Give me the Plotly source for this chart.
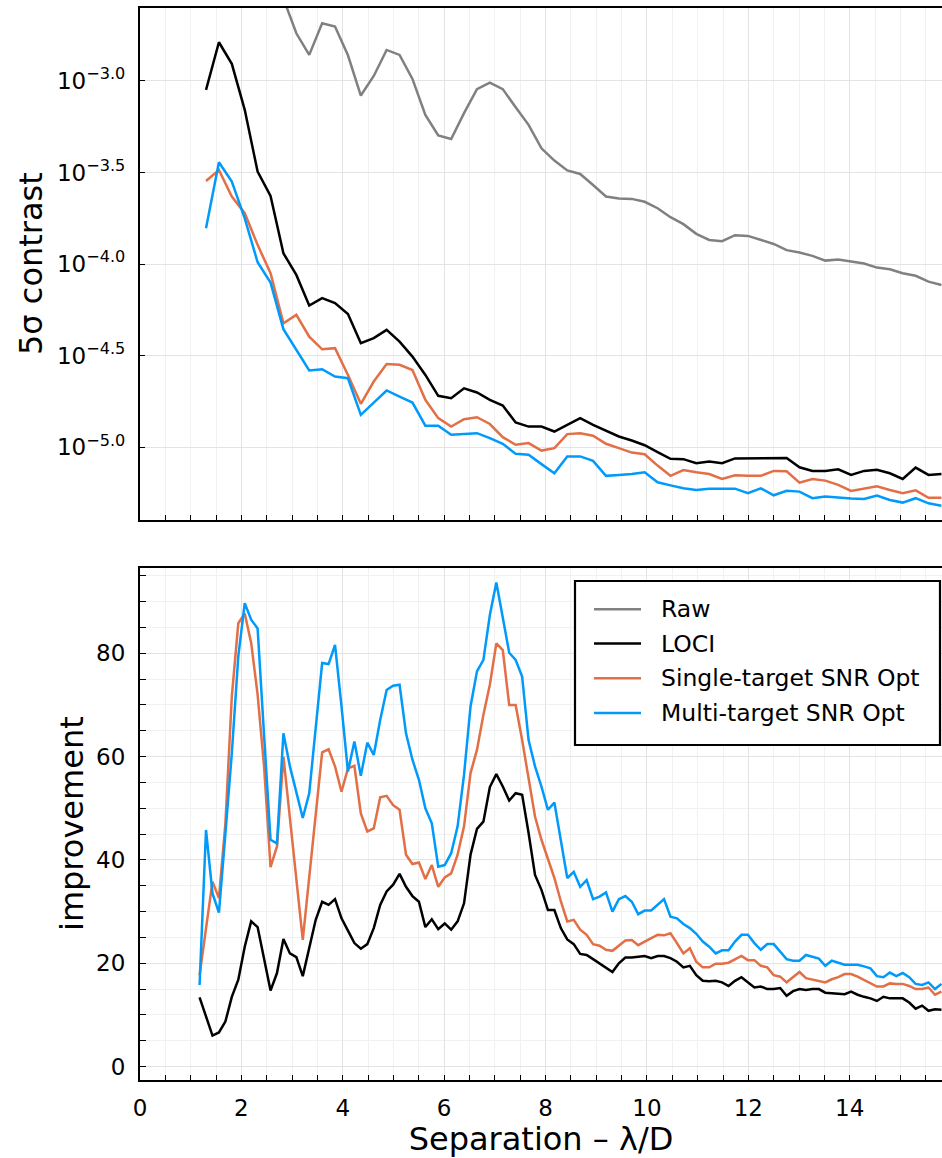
import plotly.graph_objects as go

# ---------------- data ----------------
# fine separation grid (lambda/D) used by the improvement panel
separation_fine = [
    1.175, 1.302, 1.430, 1.557, 1.684, 1.811, 1.939, 2.066, 2.193, 2.320,
    2.448, 2.575, 2.702, 2.829, 2.957, 3.084, 3.211, 3.338, 3.466, 3.593,
    3.720, 3.847, 3.975, 4.102, 4.229, 4.356, 4.484, 4.611, 4.738, 4.865,
    4.993, 5.120, 5.247, 5.374, 5.502, 5.629, 5.756, 5.883, 6.011, 6.138,
    6.265, 6.392, 6.520, 6.647, 6.774, 6.901, 7.029, 7.156, 7.283, 7.410,
    7.538, 7.665, 7.792, 7.919, 8.047, 8.174, 8.301, 8.428, 8.556, 8.683,
    8.810, 8.937, 9.065, 9.192, 9.319, 9.446, 9.574, 9.701, 9.828, 9.955,
    10.083, 10.210, 10.337, 10.464, 10.592, 10.719, 10.846, 10.973, 11.101, 11.228,
    11.355, 11.482, 11.610, 11.737, 11.864, 11.991, 12.119, 12.246, 12.373, 12.500,
    12.628, 12.755, 12.882, 13.009, 13.137, 13.264, 13.391, 13.518, 13.646, 13.773,
    13.900, 14.027, 14.155, 14.282, 14.409, 14.536, 14.664, 14.791, 14.918, 15.045,
    15.173, 15.300, 15.427, 15.554, 15.682, 15.809,
]
# coarse grid of the contrast panel (every second fine sample)
separation_coarse = separation_fine[1::2]

# log10 of 5-sigma contrast (top panel)
log_contrast_raw = [
    None, None, None, None, None, None, -2.55, -2.740, -2.858, -2.685,
    -2.703, -2.860, -3.080, -2.973, -2.831, -2.858, -2.989, -3.186, -3.298, -3.317,
    -3.176, -3.045, -3.009, -3.045, -3.144, -3.240, -3.368, -3.435, -3.489, -3.508,
    -3.568, -3.631, -3.642, -3.644, -3.660, -3.695, -3.744, -3.782, -3.835, -3.868,
    -3.875, -3.842, -3.846, -3.868, -3.890, -3.924, -3.937, -3.955, -3.981, -3.975,
    -3.988, -3.997, -4.019, -4.028, -4.050, -4.064, -4.096, -4.114,
]
log_contrast_loci = [
    -3.049, -2.789, -2.907, -3.158, -3.495, -3.628, -3.941, -4.059, -4.226, -4.186,
    -4.213, -4.272, -4.432, -4.404, -4.359, -4.423, -4.505, -4.605, -4.719, -4.732,
    -4.678, -4.701, -4.741, -4.772, -4.865, -4.887, -4.887, -4.914, -4.878, -4.841,
    -4.878, -4.909, -4.941, -4.963, -4.989, -5.027, -5.063, -5.065, -5.087, -5.078,
    -5.087, -5.061, -5.061, -5.061, -5.059, -5.059, -5.109, -5.129, -5.129, -5.120,
    -5.151, -5.129, -5.123, -5.142, -5.173, -5.111, -5.151, -5.146,
]
log_contrast_single = [
    -3.546, -3.486, -3.631, -3.722, -3.895, -4.050, -4.323, -4.277, -4.396, -4.465,
    -4.459, -4.605, -4.763, -4.641, -4.545, -4.550, -4.578, -4.741, -4.841, -4.887,
    -4.847, -4.836, -4.873, -4.945, -4.986, -4.977, -5.018, -5.005, -4.928, -4.923,
    -4.937, -4.981, -5.005, -5.029, -5.038, -5.100, -5.156, -5.124, -5.136, -5.146,
    -5.173, -5.153, -5.156, -5.156, -5.129, -5.131, -5.193, -5.173, -5.182, -5.205,
    -5.238, -5.226, -5.213, -5.233, -5.251, -5.235, -5.276, -5.276,
]
log_contrast_multi = [
    -3.804, -3.444, -3.549, -3.750, -3.990, -4.101, -4.355, -4.468, -4.581, -4.574,
    -4.614, -4.623, -4.823, -4.756, -4.690, -4.723, -4.756, -4.882, -4.882, -4.932,
    -4.927, -4.923, -4.950, -4.981, -5.036, -5.041, -5.092, -5.142, -5.050, -5.050,
    -5.074, -5.156, -5.151, -5.146, -5.136, -5.191, -5.208, -5.224, -5.233, -5.227,
    -5.226, -5.226, -5.251, -5.224, -5.262, -5.238, -5.242, -5.278, -5.269, -5.275,
    -5.280, -5.282, -5.264, -5.288, -5.302, -5.278, -5.306, -5.319,
]

# improvement over raw (bottom panel)
improvement_loci = [
    13.4, 9.7, 6.0, 6.6, 8.7, 13.5, 16.8, 23.2, 28.1, 27.0,
    20.6, 14.7, 18.1, 24.7, 21.9, 21.2, 17.5, 23.2, 28.4, 31.9,
    31.3, 32.4, 28.7, 26.3, 23.9, 22.8, 23.7, 26.8, 31.3, 33.9,
    35.2, 37.3, 34.8, 33.0, 31.9, 27.0, 28.5, 26.6, 27.7, 26.5,
    28.1, 31.6, 41.0, 46.0, 47.4, 54.1, 56.6, 54.2, 51.5, 52.9,
    52.6, 45.2, 37.1, 34.2, 30.3, 30.3, 26.8, 24.6, 23.7, 21.8,
    21.6, 20.8, 20.0, 19.2, 18.3, 20.0, 21.1, 21.1, 21.2, 21.4,
    21.0, 21.4, 21.4, 21.0, 20.3, 19.2, 19.5, 17.7, 16.6, 16.5,
    16.6, 16.3, 15.6, 16.6, 17.3, 16.3, 15.3, 15.5, 15.0, 15.0,
    15.2, 13.7, 14.6, 15.0, 14.8, 15.0, 15.0, 14.3, 14.2, 14.1,
    14.0, 14.5, 13.9, 13.5, 13.2, 12.7, 13.5, 13.2, 13.2, 13.2,
    12.4, 11.2, 11.8, 10.8, 11.1, 11.0,
]
improvement_single = [
    17.7, 27.0, 35.8, 32.6, 47.0, 71.6, 85.8, 87.7, 82.0, 72.0,
    58.0, 38.6, 42.6, 60.0, 48.0, 36.0, 24.5, 36.6, 48.7, 60.8,
    61.4, 58.1, 53.2, 57.7, 58.2, 49.0, 45.5, 46.1, 52.1, 52.4,
    50.6, 49.7, 41.0, 39.2, 39.5, 36.3, 39.0, 34.8, 36.6, 37.4,
    41.0, 46.5, 56.8, 61.3, 68.1, 73.9, 81.9, 80.6, 70.0, 70.0,
    63.2, 55.5, 48.4, 43.9, 40.0, 36.5, 32.0, 28.1, 28.4, 26.5,
    25.5, 23.7, 23.4, 22.6, 22.4, 23.4, 24.4, 24.5, 23.5, 24.2,
    24.8, 25.5, 25.4, 25.8, 23.9, 21.9, 22.9, 20.3, 19.2, 19.2,
    19.9, 19.9, 20.1, 20.8, 21.4, 20.6, 20.6, 19.5, 19.2, 17.7,
    17.4, 16.3, 17.3, 18.3, 17.1, 16.8, 16.5, 16.3, 16.9, 17.3,
    17.9, 17.9, 17.4, 16.8, 16.1, 15.5, 15.5, 16.1, 16.0, 16.0,
    15.6, 15.0, 15.0, 15.3, 13.9, 14.5,
]
improvement_multi = [
    15.8, 45.8, 33.5, 29.8, 45.0, 60.6, 79.4, 89.7, 86.5, 84.8,
    64.0, 43.9, 43.2, 64.5, 58.1, 52.9, 48.1, 52.9, 65.2, 78.1,
    77.9, 81.6, 69.7, 57.1, 62.9, 56.3, 62.7, 60.3, 67.1, 72.9,
    73.7, 73.9, 64.5, 59.4, 55.5, 50.0, 47.1, 38.7, 39.0, 41.3,
    46.5, 56.5, 69.7, 76.5, 78.7, 87.4, 93.7, 87.1, 80.1, 78.7,
    75.5, 63.2, 58.1, 54.2, 49.7, 51.1, 44.0, 36.5, 37.7, 34.8,
    36.1, 32.4, 32.9, 33.7, 30.0, 32.4, 33.0, 31.9, 29.5, 30.2,
    30.2, 31.3, 32.4, 29.0, 28.7, 27.6, 26.8, 25.7, 24.2, 23.2,
    21.9, 22.5, 22.5, 24.2, 25.5, 25.5, 23.9, 22.6, 23.7, 23.7,
    22.3, 20.8, 20.5, 20.5, 21.6, 21.3, 20.9, 19.5, 20.5, 20.1,
    19.7, 19.7, 19.7, 19.4, 19.0, 17.5, 17.3, 18.2, 17.5, 18.1,
    17.3, 16.0, 15.8, 16.3, 15.0, 16.0,
]

series_names = ["Raw", "LOCI", "Single-target SNR Opt", "Multi-target SNR Opt"]
series_colors = ["#808080", "#000000", "#E26F46", "#009AFA"]

contrast_tick_exponents = [-3.0, -3.5, -4.0, -4.5, -5.0]
contrast_tick_labels = ["10<sup>\u22123.0</sup>", "10<sup>\u22123.5</sup>", "10<sup>\u22124.0</sup>",
                        "10<sup>\u22124.5</sup>", "10<sup>\u22125.0</sup>"]

# ---------------- figure ----------------
FONT = "DejaVu Sans"
W, H = 942, 1158
ML, MR, MT, MB = 140, 0, 8, 78
PW, PH = W - ML - MR, H - MT - MB


def px_x(px):
    return (px - ML) / PW


def px_y(py):
    return (H - MB - py) / PH


fig = go.Figure()

top_series = [log_contrast_raw, log_contrast_loci, log_contrast_single, log_contrast_multi]
for name, vals, col in zip(series_names, top_series, series_colors):
    yv = [None if v is None else 10 ** v for v in vals]
    fig.add_trace(go.Scatter(
        x=separation_coarse, y=yv, mode="lines", name=name,
        line=dict(color=col, width=2.5), xaxis="x", yaxis="y", showlegend=False,
    ))

bottom_series = [improvement_loci, improvement_single, improvement_multi]
for name, vals, col in zip(series_names[1:], bottom_series, series_colors[1:]):
    fig.add_trace(go.Scatter(
        x=separation_fine, y=vals, mode="lines", name=name,
        line=dict(color=col, width=2.5), xaxis="x2", yaxis="y2", showlegend=False,
    ))

major_grid = "#e3e3e3"
minor_grid = "#f1f1f1"
tickfont = dict(family=FONT, size=23, color="black")
titlefont = dict(family=FONT, size=32, color="black")

common_x = dict(
    range=[0, 15.82], tick0=0, dtick=2, ticks="inside", ticklen=5, tickwidth=1.2,
    tickcolor="black", showline=True, linecolor="black", linewidth=2.2, mirror=True,
    showgrid=True, gridcolor=major_grid, gridwidth=1, zeroline=False,
    minor=dict(dtick=0.5, tick0=0, ticks="inside", ticklen=5, tickwidth=1.2, tickcolor="black",
               showgrid=True, gridcolor=minor_grid, gridwidth=1),
    tickfont=tickfont,
)

top_dom = [px_y(520), 1.0]
bot_dom = [0.0, px_y(568)]

# ----- manual legend (box, line samples, labels) -----
shapes = [dict(type="rect", xref="paper", yref="paper",
               x0=px_x(575), x1=px_x(940), y0=px_y(745), y1=px_y(581),
               line=dict(color="black", width=2.2), fillcolor="white", layer="above")]
annotations = []
legend_rows = [609.3, 643.6, 678.3, 713.0]
for name, col, ry in zip(series_names, series_colors, legend_rows):
    shapes.append(dict(type="line", xref="paper", yref="paper",
                       x0=px_x(594), x1=px_x(641), y0=px_y(ry), y1=px_y(ry),
                       line=dict(color=col, width=2.5), layer="above"))
    annotations.append(dict(text=name, xref="paper", yref="paper", x=px_x(659), y=px_y(ry),
                            xanchor="left", yanchor="middle", showarrow=False,
                            font=dict(family=FONT, size=23.5, color="black")))

# y-axis titles
annotations.append(dict(text="5σ contrast", xref="paper", yref="paper",
                        x=px_x(31), y=px_y(264), textangle=-90, xanchor="center", yanchor="middle",
                        showarrow=False, font=titlefont))
annotations.append(dict(text="improvement", xref="paper", yref="paper",
                        x=px_x(72), y=px_y(824), textangle=-90, xanchor="center", yanchor="middle",
                        showarrow=False, font=titlefont))

fig.update_layout(
    width=W, height=H,
    margin=dict(l=ML, r=MR, t=MT, b=MB),
    paper_bgcolor="white", plot_bgcolor="white",
    font=dict(family=FONT, color="black"),
    showlegend=False,
    xaxis=dict(common_x, anchor="y", domain=[0, 1], showticklabels=False),
    yaxis=dict(
        type="log", domain=top_dom, anchor="x",
        range=[-5.397, -2.602],
        tickvals=[10 ** e for e in contrast_tick_exponents], ticktext=contrast_tick_labels,
        ticks="inside", ticklen=5, tickwidth=1.2, tickcolor="black",
        showline=True, linecolor="black", linewidth=2.2, mirror=False,
        showgrid=True, gridcolor=major_grid, gridwidth=1, zeroline=False,
        tickfont=tickfont, ticklabelstandoff=8,
        automargin=False,
    ),
    xaxis2=dict(common_x, anchor="y2", domain=[0, 1], showticklabels=True,
                ticklabelstandoff=6,
                title=dict(text="Separation \u2013 \u03bb/D", font=titlefont, standoff=6),
                automargin=False),
    yaxis2=dict(
        domain=bot_dom, anchor="x2", range=[-2.6, 96.5],
        tick0=0, dtick=20, ticks="inside", ticklen=6, tickwidth=1.2, tickcolor="black",
        showline=True, linecolor="black", linewidth=2.2, mirror=False,
        showgrid=True, gridcolor=major_grid, gridwidth=1, zeroline=False,
        minor=dict(dtick=5, tick0=0, ticks="inside", ticklen=6, tickwidth=1.2, tickcolor="black",
                   showgrid=True, gridcolor=minor_grid, gridwidth=1),
        tickfont=tickfont, ticklabelstandoff=8,
        automargin=False,
    ),
    shapes=shapes,
    annotations=annotations,
)

fig.write_html("out.html")
